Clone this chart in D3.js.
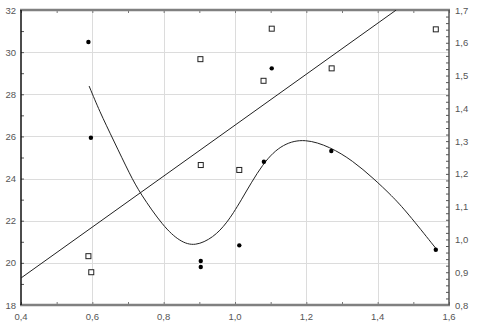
<!DOCTYPE html>
<html>
<head>
<meta charset="utf-8">
<script src="https://cdn.jsdelivr.net/npm/d3@7"></script>
<style>
  body { margin: 0; background: #fff; }
  svg text { font-family: "Liberation Sans", Arial, sans-serif; font-size: 9.5px; fill: #555; }
</style>
</head>
<body>
<script>
// values
var xVals = [0.589, 0.596, 1.103, 1.081, 1.27, 1.012, 0.904, 0.904, 1.563];
var dots = [30.48, 25.94, 29.23, 24.8, 25.31, 20.83, 20.09, 19.8, 20.62];        // left axis
var sqX = [1.103, 0.903, 1.08, 1.271, 1.563, 0.904, 1.012, 0.589, 0.597];
var squares = [1.643, 1.55, 1.484, 1.522, 1.641, 1.227, 1.212, 0.949, 0.9];     // right axis

// fitted curve (left axis)
var curveX = [0.591, 0.62, 0.659, 0.706, 0.734, 0.799, 0.846, 0.888, 0.939, 0.977, 1.014, 1.079, 1.135, 1.196, 1.266, 1.33, 1.388, 1.44, 1.481, 1.563];
var curveY = [28.39, 27.2, 25.83, 24.17, 23.3, 21.72, 21.0, 20.78, 21.2, 21.88, 22.86, 24.8, 25.67, 25.9, 25.51, 24.85, 24.01, 23.18, 22.43, 20.69];

// straight fit line (left axis units), two ends
var lineX = [0.4, 1.452];
var lineY = [19.28, 32];

var xTicks = [0.4, 0.6, 0.8, 1.0, 1.2, 1.4, 1.6];
var yTicks = [18, 20, 22, 24, 26, 28, 30, 32];
var y2Ticks = [0.8, 0.9, 1.0, 1.1, 1.2, 1.3, 1.4, 1.5, 1.6, 1.7];

var width = 477, height = 327;
var margin = {top: 10, right: 28, bottom: 22, left: 21};
var fmt = d => d3.format(".1f")(d).replace(".", ",");

var svg = d3.select("body").append("svg").attr("width", width).attr("height", height);

var x = d3.scaleLinear().domain([0.4, 1.6]).range([margin.left, width - margin.right]);
var y = d3.scaleLinear().domain([18, 32]).range([height - margin.bottom, margin.top]);
var y2 = d3.scaleLinear().domain([0.8, 1.7]).range([height - margin.bottom, margin.top]);

svg.append("clipPath").attr("id", "plot").append("rect")
  .attr("x", margin.left).attr("y", margin.top)
  .attr("width", x(1.6) - x(0.4)).attr("height", y(18) - y(32));

// grid
var grid = svg.append("g").attr("stroke", "#dcdcdc").attr("stroke-width", 1);
grid.selectAll(".gx").data(xTicks.slice(1, -1)).enter().append("line")
  .attr("x1", d => Math.round(x(d)) + 0.5).attr("x2", d => Math.round(x(d)) + 0.5)
  .attr("y1", y(32)).attr("y2", y(18));
grid.selectAll(".gy").data(yTicks.slice(1, -1)).enter().append("line")
  .attr("y1", d => Math.round(y(d)) + 0.5).attr("y2", d => Math.round(y(d)) + 0.5)
  .attr("x1", x(0.4)).attr("x2", x(1.6));

// axes (ticks pointing inward)
svg.append("g").attr("transform", "translate(0," + y(18) + ")")
  .call(d3.axisTop(x).ticks(12).tickSize(3).tickFormat(""))
  .call(g => g.select(".domain").remove())
  .call(g => g.selectAll("line").attr("stroke", "#777"));
svg.append("g").attr("transform", "translate(0," + y(32) + ")")
  .call(d3.axisBottom(x).ticks(12).tickSize(3).tickFormat(""))
  .call(g => g.select(".domain").remove())
  .call(g => g.selectAll("line").attr("stroke", "#777"));
svg.append("g").attr("transform", "translate(" + x(0.4) + ",0)")
  .call(d3.axisRight(y).ticks(14).tickSize(3).tickFormat(""))
  .call(g => g.select(".domain").remove())
  .call(g => g.selectAll("line").attr("stroke", "#555"));
svg.append("g").attr("transform", "translate(" + x(1.6) + ",0)")
  .call(d3.axisLeft(y2).ticks(36).tickSize(3).tickFormat(""))
  .call(g => g.select(".domain").remove())
  .call(g => g.selectAll("line").attr("stroke", "#555"));

// frame
svg.append("line").attr("x1", x(0.4) - 1).attr("x2", x(1.6) + 1).attr("y1", y(18)).attr("y2", y(18))
  .attr("stroke", "#808080").attr("stroke-width", 2.5);
svg.append("line").attr("x1", x(0.4) - 1).attr("x2", x(1.6) + 1).attr("y1", y(32)).attr("y2", y(32))
  .attr("stroke", "#808080").attr("stroke-width", 2.5);
svg.append("line").attr("x1", x(0.4)).attr("x2", x(0.4)).attr("y1", y(32)).attr("y2", y(18))
  .attr("stroke", "#111").attr("stroke-width", 1.5);
svg.append("line").attr("x1", x(1.6)).attr("x2", x(1.6)).attr("y1", y(32)).attr("y2", y(18))
  .attr("stroke", "#555").attr("stroke-width", 1.5);

// tick labels
svg.selectAll(".xl").data(xTicks).enter().append("text")
  .attr("x", d => x(d)).attr("y", y(18) + 15).attr("text-anchor", "middle").text(fmt);
svg.selectAll(".yl").data(yTicks).enter().append("text")
  .attr("x", x(0.4) - 5).attr("y", d => y(d) + 3.5).attr("text-anchor", "end").text(d => d);
svg.selectAll(".y2l").data(y2Ticks).enter().append("text")
  .attr("x", x(1.6) + 6).attr("y", d => y2(d) + 3.5).attr("text-anchor", "start").text(fmt);

var plot = svg.append("g").attr("clip-path", "url(#plot)");

// straight fit line
plot.append("path")
  .datum(lineX.map((d, i) => [d, lineY[i]]))
  .attr("d", d3.line().x(d => x(d[0])).y(d => y(d[1])))
  .attr("fill", "none").attr("stroke", "#222").attr("stroke-width", 1);

// smooth fit curve
plot.append("path")
  .datum(curveX.map((d, i) => [d, curveY[i]]))
  .attr("d", d3.line().x(d => x(d[0])).y(d => y(d[1])).curve(d3.curveBasis))
  .attr("fill", "none").attr("stroke", "#222").attr("stroke-width", 1);

// squares (right axis)
plot.selectAll(".sq").data(squares).enter().append("rect")
  .attr("x", (d, i) => x(sqX[i]) - 2.5).attr("y", d => y2(d) - 2.5)
  .attr("width", 5).attr("height", 5)
  .attr("fill", "#fff").attr("stroke", "#222").attr("stroke-width", 1);

// filled circles (left axis)
plot.selectAll(".dot").data(dots).enter().append("circle")
  .attr("cx", (d, i) => x(xVals[i])).attr("cy", d => y(d)).attr("r", 2.2)
  .attr("fill", "#000");
</script>
</body>
</html>
